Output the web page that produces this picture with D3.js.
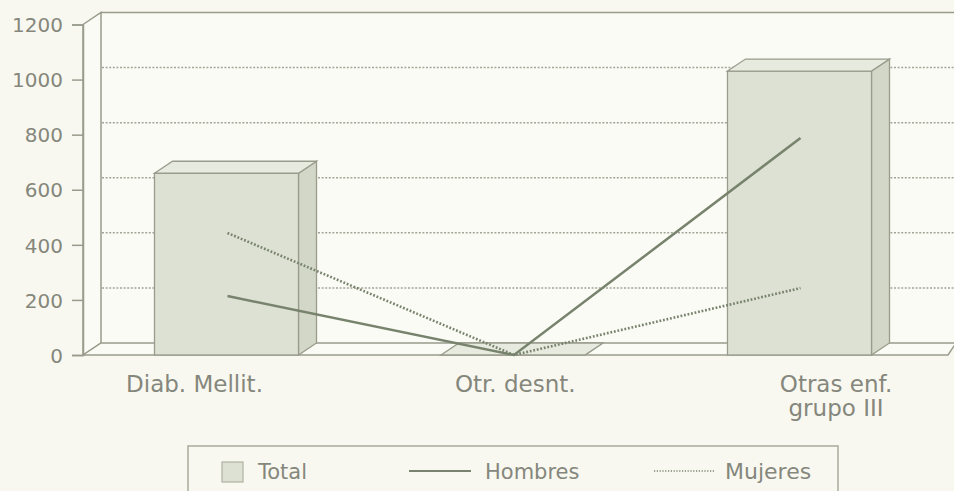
<!DOCTYPE html>
<html>
<head>
<meta charset="utf-8">
<script src="https://cdn.jsdelivr.net/npm/d3@7"></script>
<style>
  html, body { margin: 0; padding: 0; background: #f8f8f0; }
  svg { display: block; }
  text { font-family: "DejaVu Sans", sans-serif; fill: #85877c; }
</style>
</head>
<body>
<svg id="chart" width="954" height="491"></svg>
<script>
// ---- data ----
const categories = ["Diab. Mellit.", "Otr. desnt.", "Otras enf.\ngrupo III"];
const totalValues = [660, 0, 1031];
const hombresValues = [214, 0, 788];
const mujeresValues = [443, 0, 243];
const yTicks = [0, 200, 400, 600, 800, 1000, 1200];
const legendLabels = ["Total", "Hombres", "Mujeres"];

// ---- layout ----
const W = 954, H = 491;
const depthX = 18, depthY = -12;
const axisX = 83;
const barWidth = 144;
const stroke = "#999c8c";
const lineColor = "#77836c";

const svg = d3.select("#chart");
svg.append("rect").attr("width", W).attr("height", H).attr("fill", "#f8f8f0");

const y = d3.scaleLinear().domain([0, 1200]).range([355, 24.5]);
const xBar = d3.scalePoint().domain(categories).range([226.5, 799.5]);
const xLabel = d3.scalePoint().domain(categories).range([194.5, 836]);

const rightEdge = 954;
const backX = axisX + depthX;

// back wall
const g = svg.append("g");
g.append("rect").attr("x", backX).attr("y", y(1200) + depthY)
  .attr("width", rightEdge - backX).attr("height", y(0) - y(1200))
  .attr("fill", "#fbfbf5").attr("stroke", "none");
// left side wall
g.append("path")
  .attr("d", `M${axisX},${y(1200)}L${backX},${y(1200)+depthY}L${backX},${y(0)+depthY}L${axisX},${y(0)}Z`)
  .attr("fill", "#fbfbf5").attr("stroke", stroke).attr("stroke-width", 1.5);
// top line of back wall
g.append("line").attr("x1", backX).attr("x2", rightEdge)
  .attr("y1", y(1200) + depthY).attr("y2", y(1200) + depthY)
  .attr("stroke", stroke).attr("stroke-width", 1.5);
// dotted gridlines on back wall
g.selectAll(".grid").data(yTicks.filter(d => d > 0 && d < 1200)).join("line")
  .attr("class", "grid")
  .attr("x1", backX + 1).attr("x2", rightEdge)
  .attr("y1", d => y(d) + depthY).attr("y2", d => y(d) + depthY)
  .attr("stroke", "#a3a697").attr("stroke-width", 1.5).attr("stroke-dasharray", "2,1.6");
// floor
g.append("path")
  .attr("d", `M${axisX},${y(0)}L${backX},${y(0)+depthY}L${rightEdge+2},${y(0)+depthY}L${rightEdge-6},${y(0)}Z`)
  .attr("fill", "#fbfbf5").attr("stroke", stroke).attr("stroke-width", 1.5);

// y axis
const yAxis = d3.axisLeft(y).tickValues(yTicks).tickFormat(d3.format("d")).tickSize(11).tickPadding(9);
const ax = svg.append("g").attr("transform", `translate(${axisX},0)`).call(yAxis);
ax.select(".domain").attr("stroke", stroke).attr("stroke-width", 1.5);
ax.selectAll(".tick line").attr("stroke", stroke).attr("stroke-width", 1.5);
ax.selectAll(".tick text").attr("font-size", 20).attr("fill", "#85877c")
  .attr("font-family", "DejaVu Sans").attr("dy", "0.36em");

// 3D bars
const bars = svg.append("g");
categories.forEach((c, i) => {
  const v = totalValues[i];
  const x0 = xBar(c) - barWidth / 2, x1 = xBar(c) + barWidth / 2;
  const yt = y(v), yb = y(0);
  const bg = bars.append("g");
  // side
  bg.append("path")
    .attr("d", `M${x1},${yt}L${x1+depthX},${yt+depthY}L${x1+depthX},${yb+depthY}L${x1},${yb}Z`)
    .attr("fill", "#d2d7c7").attr("stroke", stroke).attr("stroke-width", 1.3);
  // front
  bg.append("rect").attr("x", x0).attr("y", yt).attr("width", barWidth).attr("height", Math.max(0, yb - yt))
    .attr("fill", "#dde1d3").attr("stroke", stroke).attr("stroke-width", 1.3);
  // top
  bg.append("path")
    .attr("d", `M${x0},${yt}L${x0+depthX},${yt+depthY}L${x1+depthX},${yt+depthY}L${x1},${yt}Z`)
    .attr("fill", "#e7eadf").attr("stroke", stroke).attr("stroke-width", 1.3);
});

// lines
const lineGen = d3.line().x(d => xBar(d.c) + 1).y(d => y(d.v));
svg.append("path")
  .datum(categories.map((c, i) => ({ c, v: hombresValues[i] })))
  .attr("d", lineGen).attr("fill", "none")
  .attr("stroke", lineColor).attr("stroke-width", 2.5);
svg.append("path")
  .datum(categories.map((c, i) => ({ c, v: mujeresValues[i] })))
  .attr("d", lineGen).attr("fill", "none")
  .attr("stroke", lineColor).attr("stroke-width", 2.6).attr("stroke-dasharray", "1.8,1.8");

// category labels (one text per line)
categories.forEach(c => {
  c.split("\n").forEach((l, k) => {
    svg.append("text").attr("text-anchor", "middle").attr("font-size", 23)
      .attr("x", xLabel(c)).attr("y", 392 + k * 23.5).text(l);
  });
});

// legend
const lg = svg.append("g");
lg.append("rect").attr("x", 188).attr("y", 446).attr("width", 650).attr("height", 70)
  .attr("fill", "none").attr("stroke", "#a8ab9c").attr("stroke-width", 1.5);
const legX = d3.scaleOrdinal().domain(legendLabels).range([222, 409, 654]);
// Total swatch
lg.append("rect").attr("x", legX("Total")).attr("y", 462).attr("width", 21).attr("height", 20)
  .attr("fill", "#dde1d3").attr("stroke", "#b0b3a3").attr("stroke-width", 1.2);
lg.append("text").attr("x", legX("Total") + 36).attr("y", 479).attr("font-size", 21).text("Total");
lg.append("line").attr("x1", legX("Hombres")).attr("x2", legX("Hombres") + 62)
  .attr("y1", 471).attr("y2", 471).attr("stroke", lineColor).attr("stroke-width", 2);
lg.append("text").attr("x", legX("Hombres") + 76).attr("y", 479).attr("font-size", 21).text("Hombres");
lg.append("line").attr("x1", legX("Mujeres")).attr("x2", legX("Mujeres") + 60)
  .attr("y1", 471).attr("y2", 471).attr("stroke", lineColor).attr("stroke-width", 1.6)
  .attr("stroke-dasharray", "1.2,1.6");
lg.append("text").attr("x", legX("Mujeres") + 71).attr("y", 479).attr("font-size", 22).text("Mujeres");
</script>
</body>
</html>
